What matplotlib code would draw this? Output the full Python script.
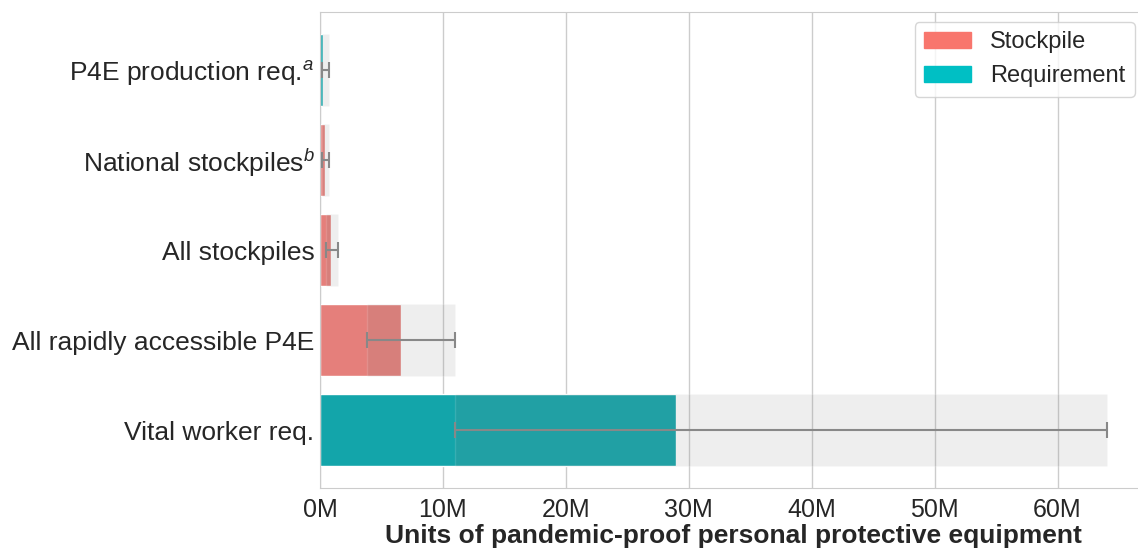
import numpy as np
import matplotlib
matplotlib.use("Agg")
import matplotlib.pyplot as plt
import seaborn as sns
from matplotlib.patches import Patch
from matplotlib.ticker import FuncFormatter

labels = ["Vital worker req.", "All rapidly accessible P4E", "All stockpiles",
          "National stockpiles$^b$", "P4E production req.$^a$"]
kinds = ["Requirement", "Stockpile", "Stockpile", "Stockpile", "Requirement"]
central = [29.0e6, 6.6e6, 0.87e6, 0.42e6, 0.27e6]
low = [11.0e6, 3.8e6, 0.49e6, 0.17e6, 0.14e6]
high = [64.0e6, 11.0e6, 1.44e6, 0.7e6, 0.7e6]

legend_colors = {"Stockpile": "#F8766D", "Requirement": "#00BFC4"}
bar_colors = {"Stockpile": "#E57F7B", "Requirement": "#13A5AA"}

sns.set_style("whitegrid")
plt.rcParams["font.family"] = ["Liberation Sans", "DejaVu Sans"]
plt.rcParams["mathtext.fontset"] = "custom"
plt.rcParams["mathtext.it"] = "Liberation Sans:italic"
plt.rcParams["mathtext.rm"] = "Liberation Sans"

fig = plt.figure(figsize=(11.38, 5.5), dpi=100)
ax = fig.add_axes([320 / 1138, 1 - 488 / 550, 826 / 1138, 476 / 550])

y = np.arange(len(labels))
ax.barh(y, central, height=0.8, color=[bar_colors[k] for k in kinds], zorder=2)
lo = np.array(low)
hi = np.array(high)
ax.barh(y, hi - lo, left=lo, height=0.8, color="#808080", alpha=0.13, zorder=3)
ax.errorbar((lo + hi) / 2, y, xerr=(hi - lo) / 2, fmt="none", ecolor="#888888",
            elinewidth=1.5, capsize=6, capthick=1.5, zorder=4)

ax.set_yticks(y)
ax.set_yticklabels(labels, fontsize=19, color="#262626")
ax.tick_params(axis="y", pad=0.5)
ax.xaxis.set_major_formatter(FuncFormatter(lambda v, p: f"{v / 1e6:.0f}M"))
ax.tick_params(axis="x", labelsize=18, colors="#262626")
ax.grid(axis="y", visible=False)
ax.grid(axis="x", color="#cccccc", linewidth=1)
ax.set_axisbelow(True)
ax.set_xlabel("Units of pandemic-proof personal protective equipment",
              fontsize=19, fontweight="bold", color="#262626", labelpad=2)

handles = [Patch(color=legend_colors["Stockpile"], label="Stockpile"),
           Patch(color=legend_colors["Requirement"], label="Requirement")]
ax.legend(handles=handles, loc="upper right", bbox_to_anchor=(1135 / 1138, 1 - 22 / 550),
          bbox_transform=fig.transFigure, fontsize=17, frameon=True,
          handlelength=2.0, borderaxespad=0.0)

fig.savefig("out.png", dpi=100)
